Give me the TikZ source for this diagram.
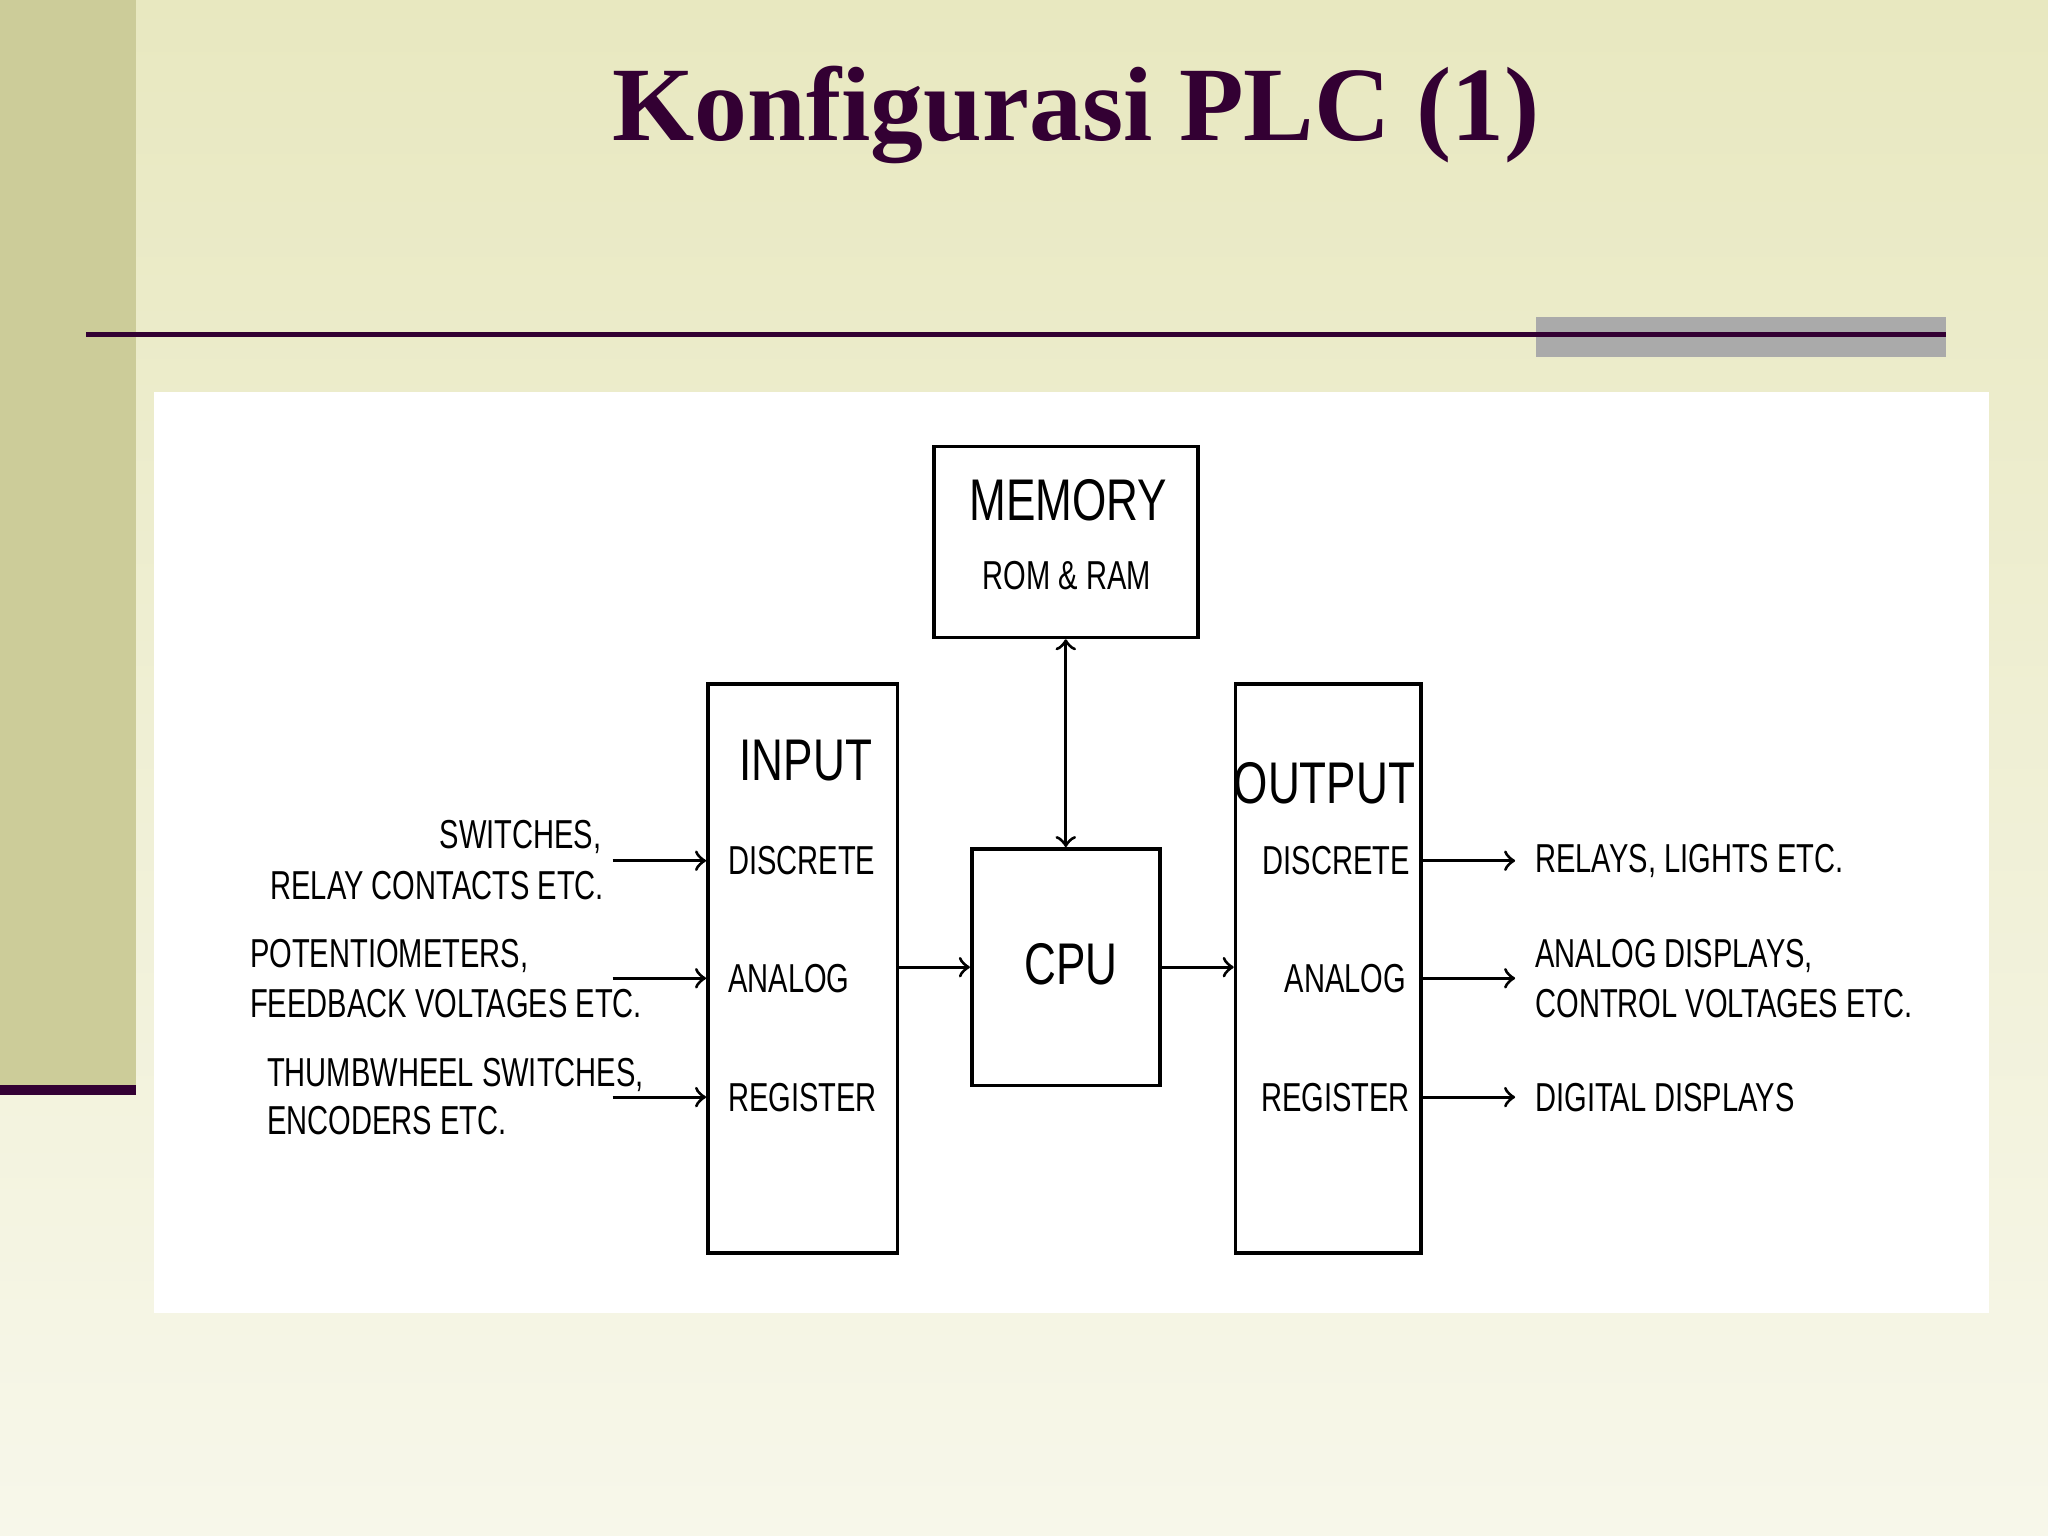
\documentclass[tikz,border=0pt]{standalone}
\usepackage{fontspec}
\setmainfont{Liberation Serif}
\newfontfamily\lbl{Liberation Sans}
\definecolor{plum}{HTML}{330033}
\begin{document}
\begin{tikzpicture}[x=0.01cm,y=-0.01cm,
 sm/.style={font=\lbl\fontsize{8.8}{9}\selectfont, xscale=0.72, transform shape, inner sep=0},
 big/.style={font=\lbl\fontsize{12.8}{13}\selectfont, xscale=0.75, transform shape, inner sep=0},
 blk/.style={draw, line width=0.8pt, rectangle, inner sep=0},
 arr/.style={->, >=to, line width=0.7pt}]
\useasboundingbox (0,0) rectangle (1568,1176);
\shade[top color={rgb,255:red,232;green,232;blue,192}, bottom color={rgb,255:red,247;green,247;blue,234}] (0,0) rectangle (1568,1176);
\fill[color={rgb,255:red,204;green,204;blue,153}] (0,0) rectangle (104,835);
\fill[plum] (0,831) rectangle (104,838);
\fill[color={rgb,255:red,170;green,170;blue,170}] (1176,243) rectangle (1490,273);
\draw[plum, line width=1.2pt] (66,256) -- (1490,256);
\node[text=plum, font=\bfseries\fontsize{23}{26}\selectfont] (title) at (824,88) {Konfigurasi PLC (1)};
\fill[white] (118,300) rectangle (1523,1005);
% blocks
\node[blk, minimum width=2.02cm, minimum height=1.46cm] (mem) at (816,415) {};
\node[blk, minimum width=1.45cm, minimum height=4.35cm] (inp) at (614.5,741.5) {};
\node[blk, minimum width=1.44cm, minimum height=1.81cm] (cpu) at (816,740.5) {};
\node[blk, minimum width=1.42cm, minimum height=4.35cm] (out) at (1017,741.5) {};
\node[big] (memt) at (818,383) {MEMORY};
\node[sm,anchor=west] (rr) at (752,441) {ROM \& RAM};
\node[big] (inpt) at (617,582) {INPUT};
\node[big] (outt) at (1014,600) {OUTPUT};
\node[big] (cput) at (820,738) {CPU};
\node[sm,anchor=west] (id) at (557,659) {DISCRETE};
\node[sm,anchor=west] (ia) at (557,749) {ANALOG};
\node[sm,anchor=west] (ir) at (557,840) {REGISTER};
\node[sm,anchor=east] (od) at (1080,659) {DISCRETE};
\node[sm,anchor=east] (oa) at (1077,749) {ANALOG};
\node[sm,anchor=east] (or) at (1080,840) {REGISTER};
% left labels
\node[sm,anchor=east] (l1) at (461,641) {SWITCHES,};
\node[sm,anchor=east] (l2) at (463,678) {RELAY CONTACTS ETC.};
\node[sm,anchor=west] (l3) at (191,732) {POTENTIOMETERS,};
\node[sm,anchor=west] (l4) at (191,768) {FEEDBACK VOLTAGES ETC.};
\node[sm,anchor=west] (l5) at (204,823) {THUMBWHEEL SWITCHES,};
\node[sm,anchor=west] (l6) at (204,858) {ENCODERS ETC.};
% right labels
\node[sm,anchor=west] (r1) at (1175,659) {RELAYS, LIGHTS ETC.};
\node[sm,anchor=west] (r2) at (1175,732) {ANALOG DISPLAYS,};
\node[sm,anchor=west] (r3) at (1175,768) {CONTROL VOLTAGES ETC.};
\node[sm,anchor=west] (r4) at (1175,840) {DIGITAL DISPLAYS};
% arrow start coordinates
\coordinate (a1) at (469,659); \coordinate (a2) at (469,749); \coordinate (a3) at (469,840);
\coordinate (b1) at (1160,659); \coordinate (b2) at (1160,749); \coordinate (b3) at (1160,840);
\draw[arr] (a1) -- (a1 -| inp.west);
\draw[arr] (a2) -- (a2 -| inp.west);
\draw[arr] (a3) -- (a3 -| inp.west);
\draw[arr] (b1 -| out.east) -- (b1);
\draw[arr] (b2 -| out.east) -- (b2);
\draw[arr] (b3 -| out.east) -- (b3);
\draw[arr] (inp.east |- cpu.center) -- (cpu.west);
\draw[arr] (cpu.east) -- (out.west |- cpu.center);
\draw[arr, <->] (mem.south) -- (cpu.north);
\end{tikzpicture}
\end{document}
